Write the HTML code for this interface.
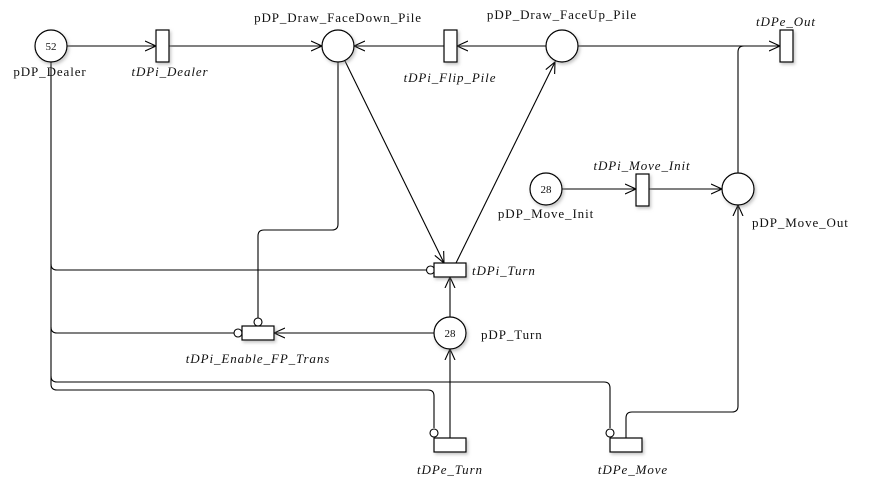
<!DOCTYPE html>
<html><head><meta charset="utf-8"><style>
html,body{margin:0;padding:0;background:#fff;}
svg{display:block;}
text{font-family:"Liberation Serif",serif;font-size:13px;fill:#111;letter-spacing:0.9px;}
.i{font-style:italic;}
</style></head><body>
<svg width="871" height="493" viewBox="0 0 871 493" xmlns="http://www.w3.org/2000/svg">
<defs>
<marker id="a" markerUnits="userSpaceOnUse" markerWidth="14" markerHeight="12" refX="11" refY="6" orient="auto">
<path d="M0,1 L11,6 L0,11" fill="none" stroke="#000" stroke-width="1.1"/>
</marker>
<filter id="s" x="-50%" y="-50%" width="200%" height="200%"><feDropShadow dx="1.5" dy="2" stdDeviation="1.5" flood-color="#888" flood-opacity="0.5"/></filter>
</defs>
<g fill="none" stroke="#000" stroke-width="1.1">
<path d="M67,46 H156" marker-end="url(#a)"/>
<path d="M169,46 H322" marker-end="url(#a)"/>
<path d="M444,46 H354" marker-end="url(#a)"/>
<path d="M546,46 H457" marker-end="url(#a)"/>
<path d="M578,46 H780" marker-end="url(#a)"/>
<path d="M738,173 V52 Q738,46 744,46 H780"/>
<path d="M562,189 H636" marker-end="url(#a)"/>
<path d="M649,189 H722" marker-end="url(#a)"/>
<path d="M345,61 L444,263" marker-end="url(#a)"/>
<path d="M456,263 L555,62" marker-end="url(#a)"/>
<path d="M450,317 V277" marker-end="url(#a)"/>
<path d="M450,438 V349" marker-end="url(#a)"/>
<path d="M434,333 H274" marker-end="url(#a)"/>
<path d="M626,438 V418 Q626,412 632,412 H732 Q738,412 738,406 V205" marker-end="url(#a)"/>
<path d="M51,62 V384 Q51,390 57,390 H428 Q434,390 434,396 V428"/>
<path d="M51,264 Q51,270 57,270 H426"/>
<path d="M51,327 Q51,333 57,333 H234"/>
<path d="M51,376 Q51,382 57,382 H604 Q610,382 610,388 V428"/>
<path d="M338,62 V224 Q338,230 332,230 H264 Q258,230 258,236 V318"/>
</g>
<g fill="#fff" stroke="#000" stroke-width="1.1">
<circle cx="430.5" cy="270" r="4"/>
<circle cx="238" cy="333" r="4"/>
<circle cx="258" cy="322" r="4"/>
<circle cx="434" cy="433" r="4"/>
<circle cx="610" cy="433" r="4"/>
</g>
<g fill="#fff" stroke="#000" stroke-width="1.2" filter="url(#s)">
<circle cx="51" cy="46" r="16"/>
<circle cx="338" cy="46" r="16"/>
<circle cx="562" cy="46" r="16"/>
<circle cx="546" cy="189" r="16"/>
<circle cx="738" cy="189" r="16"/>
<circle cx="450" cy="333" r="16"/>
<rect x="156" y="30" width="13" height="32"/>
<rect x="444" y="30" width="13" height="32"/>
<rect x="780" y="30" width="13" height="32"/>
<rect x="636" y="174" width="13" height="32"/>
<rect x="434" y="263" width="32" height="14"/>
<rect x="242" y="326" width="32" height="14"/>
<rect x="434" y="438" width="32" height="14"/>
<rect x="610" y="438" width="32" height="14"/>
</g>
<g text-anchor="middle">
<text x="51" y="50" style="font-size:11px;letter-spacing:0">52</text>
<text x="546" y="193" style="font-size:11px;letter-spacing:0">28</text>
<text x="450" y="337" style="font-size:11px;letter-spacing:0">28</text>
<text x="50" y="76">pDP_Dealer</text>
<text class="i" x="170" y="76">tDPi_Dealer</text>
<text x="338" y="22">pDP_Draw_FaceDown_Pile</text>
<text class="i" x="450" y="82">tDPi_Flip_Pile</text>
<text x="562" y="19">pDP_Draw_FaceUp_Pile</text>
<text class="i" x="786" y="26">tDPe_Out</text>
<text class="i" x="642" y="170">tDPi_Move_Init</text>
<text x="546" y="218">pDP_Move_Init</text>
<text class="i" x="258" y="363">tDPi_Enable_FP_Trans</text>
<text class="i" x="450" y="474">tDPe_Turn</text>
<text class="i" x="633" y="474">tDPe_Move</text>
</g>
<text x="752" y="227">pDP_Move_Out</text>
<text class="i" x="472" y="275">tDPi_Turn</text>
<text x="481" y="339">pDP_Turn</text>
</svg>
</body></html>
